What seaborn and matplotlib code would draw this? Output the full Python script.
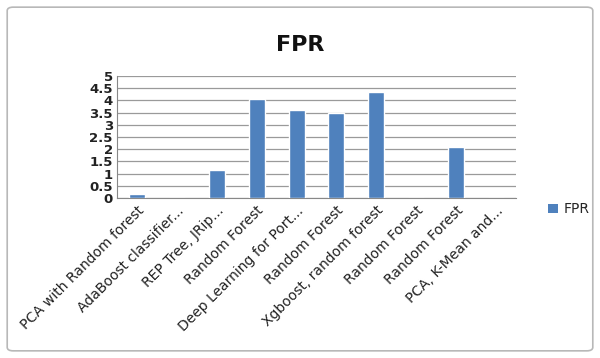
import matplotlib
matplotlib.use("Agg")
import matplotlib.pyplot as plt
import seaborn as sns
import pandas as pd
from matplotlib.patches import FancyBboxPatch, Patch

categories = ["PCA with Random forest", "AdaBoost classifier...", "REP Tree, JRip...",
              "Random Forest", "Deep Learning for Port...", "Random Forest ",
              "Xgboost, random forest", "Random Forest  ", "Random Forest   ",
              "PCA, K-Mean and..."]
fpr = [0.18, 0, 1.15, 4.05, 3.59, 3.49, 4.34, 0, 2.1, 0]
yticks = [0, 0.5, 1, 1.5, 2, 2.5, 3, 3.5, 4, 4.5, 5]
ytick_labels = ["0", "0.5", "1", "1.5", "2", "2.5", "3", "3.5", "4", "4.5", "5"]

df = pd.DataFrame({"cat": categories, "FPR": fpr})

sns.set_style("white")
plt.rcParams['font.family'] = ['DejaVu Sans']

fig = plt.figure(figsize=(6.0, 3.58), dpi=100)
fig.patch.set_facecolor("white")
frame = FancyBboxPatch((0.012, 0.02), 0.976, 0.96, boxstyle="round,pad=0,rounding_size=0.01",
                       transform=fig.transFigure, facecolor="white", edgecolor="#b8b8b8",
                       linewidth=1.2, zorder=-10)
fig.patches.append(frame)

ax = fig.add_axes([0.195, 0.447, 0.665, 0.341])
sns.barplot(data=df, x="cat", y="FPR", color="#4F81BD", width=0.4, ax=ax,
            saturation=1, zorder=3)
ax.set_ylim(0, 5)
ax.set_xlim(-0.5, len(categories) - 0.5)
ax.set_yticks(yticks)
ax.set_yticklabels(ytick_labels, fontsize=9.5, fontweight="bold",
                   family="DejaVu Sans Condensed", color="#222222")
ax.yaxis.grid(True, color="#9a9a9a", linewidth=0.9, zorder=0)
ax.set_axisbelow(True)
ax.set_xlabel("")
ax.set_ylabel("")
ax.set_xticks(range(len(categories)))
ax.set_xticklabels([c.strip() for c in categories], rotation=45, ha="right",
                   rotation_mode="anchor", fontsize=10, color="#222222")
ax.tick_params(axis="x", length=0, pad=4)
ax.tick_params(axis="y", length=0, pad=3)
# boundary tick marks between categories
ax.set_xticks([i - 0.5 for i in range(len(categories) + 1)], minor=True)
ax.tick_params(axis="x", which="minor", length=5, color="#888888", direction="out")
for s in ["top", "right"]:
    ax.spines[s].set_visible(False)
ax.spines["left"].set_color("#888888")
ax.spines["bottom"].set_color("#888888")

fig.text(0.5, 0.875, "FPR", ha="center", va="center", fontsize=16, fontweight="bold",
         color="#111111")
fig.legend(handles=[Patch(facecolor="#4F81BD", edgecolor="none", label="FPR")],
           loc="center left", bbox_to_anchor=(0.893, 0.415), frameon=False,
           fontsize=10, handlelength=0.7, handleheight=0.7, handletextpad=0.4)

fig.savefig("out.png", dpi=100, facecolor="white")
